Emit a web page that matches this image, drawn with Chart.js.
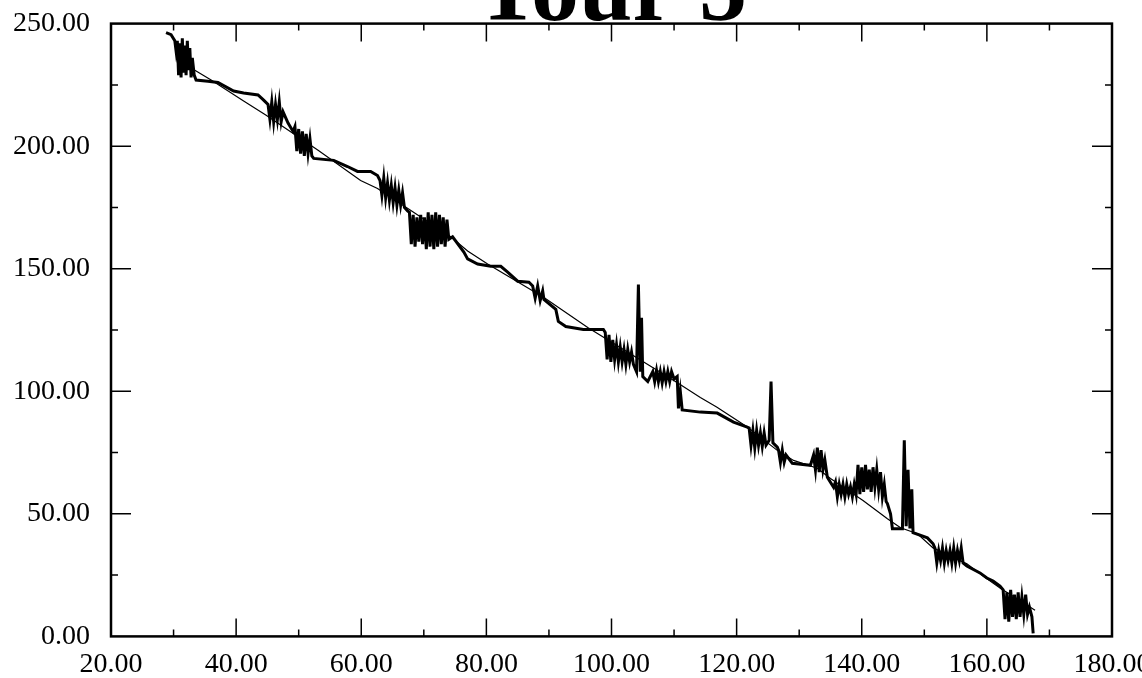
<!DOCTYPE html>
<html>
<head>
<meta charset="utf-8">
<title>Tour 5</title>
<script src="https://cdn.jsdelivr.net/npm/chart.js@4.4.0/dist/chart.umd.min.js"></script>
<style>
html, body { margin: 0; padding: 0; background: #fff; overflow: hidden; width: 1142px; height: 678px; }
#wrap { position: absolute; left: -20px; top: -65px; width: 1182px; height: 757px; }
</style>
</head>
<body>
<div id="wrap"><canvas id="chart"></canvas></div>
<script>
const tourX = [
    28.8, 29.6, 30.2, 30.4, 30.6, 30.8, 31.0, 31.2, 31.4, 31.6, 31.8, 32.0, 32.2, 32.4, 32.6, 32.8, 33.0, 33.3,
    33.6, 35.5, 37.1, 39.6, 41.2, 43.5, 44.4,
    45.1, 45.4, 45.7, 46.0, 46.3, 46.6, 46.9, 47.2, 47.5, 48.3,
    49.1, 49.4, 49.7, 50.0, 50.3, 50.6, 50.9, 51.2, 51.5, 51.8, 52.1,
    52.4, 55.6, 57.8, 59.4, 61.5, 62.6,
    63.0, 63.3, 63.6, 63.9, 64.2, 64.5, 64.8, 65.1, 65.4, 65.7, 66.0, 66.3, 66.6, 66.9, 67.4,
    67.7, 68.0, 68.3, 68.6, 68.9, 69.2, 69.5, 69.8, 70.1, 70.4, 70.7, 71.0, 71.3, 71.6, 71.9, 72.2, 72.5, 72.8, 73.1, 73.4, 73.7, 74.0,
    74.6, 76.4, 77.0, 78.6, 80.7, 82.3, 83.4, 85.0, 86.8,
    87.4, 87.8, 88.2, 88.6, 89.0, 89.2, 91.1, 91.5, 92.7, 95.5, 98.7,
    99.0, 99.3, 99.6, 99.9, 100.2, 100.5, 100.8, 101.1, 101.4, 101.7, 102.0, 102.3, 102.6, 102.9, 103.2, 103.5,
    104.0, 104.3, 104.6, 104.8, 105.0, 105.8,
    106.6, 106.9, 107.2, 107.5, 107.8, 108.1, 108.4, 108.7, 109.0, 109.3, 109.6, 110.0,
    110.5, 110.7, 111.0, 111.3, 114.2, 116.9, 119.5, 121.7,
    122.0, 122.3, 122.6, 122.9, 123.2, 123.5, 123.8, 124.1, 124.4, 124.7, 125.2, 125.5, 125.8, 126.5,
    126.7, 127.0, 127.3, 127.6, 127.9, 128.9, 131.8,
    132.3, 132.6, 132.9, 133.2, 133.5, 133.8, 134.1, 134.5, 135.5,
    135.8, 136.1, 136.4, 136.7, 137.0, 137.3, 137.6, 137.9, 138.2, 138.5, 138.8, 139.1,
    139.4, 139.7, 140.0, 140.3, 140.6, 140.9, 141.2, 141.5, 141.8, 142.1, 142.4, 142.7, 143.0, 143.3, 143.6, 143.9,
    144.1, 144.6, 144.9, 146.5, 146.8, 147.1, 147.4, 147.7, 148.0, 148.2, 150.5, 151.4,
    151.7, 152.0, 152.3, 152.6, 152.9, 153.2, 153.5, 153.8, 154.1, 154.4, 154.7, 155.0, 155.3, 155.6, 155.9, 156.2,
    156.8, 158.9, 160.0, 161.0, 162.1,
    162.6, 162.9, 163.2, 163.5, 163.8, 164.1, 164.4, 164.7, 165.0, 165.3, 165.6, 165.9, 166.2, 166.5,
    166.8, 167.2, 167.4
]
const tourY = [
    246.3, 245.5, 243, 238.9, 243, 229, 242, 228, 244, 230, 241, 229, 243, 231, 240, 228, 236, 229,
    227, 226.5, 226, 222.5, 221.7, 220.9, 218.8,
    217, 211, 218, 210, 217, 211, 218, 210, 214, 209.4,
    206, 208, 198, 207, 197, 206, 196, 205, 197, 203, 196,
    195, 194.2, 191.7, 189.7, 189.7, 188,
    186, 180, 187, 179, 185, 178, 184, 177, 183, 176, 182, 176, 181, 175, 173.6,
    173, 160, 172, 159, 171, 161, 172, 160, 171, 158, 173, 159, 172, 158, 173, 159, 172, 160, 171, 159, 170, 162,
    163, 156.8, 154, 151.9, 151, 151, 148.6, 144.9, 144.5,
    143, 138, 143, 137, 141, 137.5, 133.4, 128.5, 126.4, 125.2, 125.2,
    124, 113, 123, 112, 121, 113, 119, 112, 118, 112, 117, 111, 117, 112, 116, 111,
    108, 143.5, 108, 130, 106, 104,
    108, 104, 108.5, 104, 108, 103.5, 108, 104, 108, 104, 108, 105,
    106, 93, 100, 92.4, 91.5, 91.1, 87.4, 85.4,
    85, 78, 84, 77, 84, 78, 83, 77.5, 83, 78, 80, 104, 79, 77.2,
    76, 71, 76, 71, 74, 70.6, 69.8,
    74, 68, 77, 67, 76, 68, 72, 64.9, 60.8,
    63, 57, 62, 58, 62, 57, 62, 58, 61, 57, 62, 58,
    70, 58, 69, 59, 70, 60, 68, 59, 69, 61, 68, 60, 67, 57, 62, 55,
    54.2, 50, 43.9, 43.9, 80, 45, 68, 44, 60, 42.3, 40.2, 37.8,
    36, 30, 35, 31, 36, 30, 35, 31, 35, 30, 36, 30, 35, 31, 36, 30,
    28.7, 25.9, 23.8, 22.6, 20.5,
    19, 7, 18, 6, 19, 8, 17, 7, 18, 8, 16, 9, 17, 9,
    12, 8, 1.2
]
// reference track (thin line)
const refX = [32.0, 33.6, 36.0, 41.2, 44.8, 53.1, 59.9, 62.6, 74.3, 77.0, 80.2, 89.2, 96.2, 110.6, 114.2, 116.8,
    121.7, 126.5, 129.1, 132.9, 135.0, 140.2, 144.1, 146.2, 148.9, 151.4, 156.8, 159.4, 162.1, 167.7]
const refY = [233, 230.7, 227, 218.4, 212.6, 198.3, 186, 182.7, 163, 157.2, 151.9, 138.3, 126, 103.4, 97.5, 93.6,
    85.4, 75.9, 71.8, 68.6, 64.4, 55.4, 48, 44.3, 41.9, 36.1, 29.6, 24.6, 19.7, 10.7]

const xTicks = [20, 40, 60, 80, 100, 120, 140, 160, 180]
const yTicks = [0, 50, 100, 150, 200, 250]

const serif = 'Liberation Serif'

// frame + inward tick marks on all four sides
const frameTicks = {
    id: 'frameTicks',
    afterDatasetsDraw(chart) {
        const {ctx, chartArea: a, scales: {x, y}} = chart
        ctx.save()
        ctx.strokeStyle = '#000'
        ctx.lineWidth = 1.5
        ctx.beginPath()
        for (let i = 0; i < xTicks.length; i++) {
            const major = x.getPixelForValue(xTicks[i])
            if (i > 0 && i < xTicks.length - 1) {
                ctx.moveTo(major, a.bottom); ctx.lineTo(major, a.bottom - 18)
                ctx.moveTo(major, a.top); ctx.lineTo(major, a.top + 18)
            }
            if (i < xTicks.length - 1) {
                const minor = x.getPixelForValue((xTicks[i] + xTicks[i + 1]) / 2)
                ctx.moveTo(minor, a.bottom); ctx.lineTo(minor, a.bottom - 7)
                ctx.moveTo(minor, a.top); ctx.lineTo(minor, a.top + 7)
            }
        }
        for (let i = 0; i < yTicks.length; i++) {
            const major = y.getPixelForValue(yTicks[i])
            if (i > 0 && i < yTicks.length - 1) {
                ctx.moveTo(a.left, major); ctx.lineTo(a.left + 20, major)
                ctx.moveTo(a.right, major); ctx.lineTo(a.right - 20, major)
            }
            if (i < yTicks.length - 1) {
                const minor = y.getPixelForValue((yTicks[i] + yTicks[i + 1]) / 2)
                ctx.moveTo(a.left, minor); ctx.lineTo(a.left + 7, minor)
                ctx.moveTo(a.right, minor); ctx.lineTo(a.right - 7, minor)
            }
        }
        ctx.stroke()
        ctx.lineWidth = 2.5
        ctx.strokeRect(a.left, a.top, a.right - a.left, a.bottom - a.top)
        ctx.restore()
    }
}

const ctx = document.getElementById('chart').getContext('2d')
const chart = new Chart(ctx, {
    type: 'scatter',
    data: {
        datasets: [{
            label: 'reference',
            data: refX.map((v, i) => ({x: v, y: refY[i]})),
            showLine: true,
            borderColor: '#000',
            borderWidth: 1.2,
            pointRadius: 0,
            tension: 0
        }, {
            label: 'Tour 5',
            data: tourX.map((v, i) => ({x: v, y: tourY[i]})),
            showLine: true,
            borderColor: '#000',
            borderWidth: 3,
            pointRadius: 0,
            tension: 0
        }]
    },
    options: {
        responsive: true,
        maintainAspectRatio: false,
        animation: false,
        layout: {padding: {left: 12, right: 50, top: 0, bottom: 0}},
        plugins: {
            legend: {display: false},
            tooltip: {enabled: false},
            title: {
                display: true,
                text: 'Tour 5',
                color: '#000',
                fullSize: false,
                font: {family: serif, size: 96, weight: 'bold', lineHeight: 0.6},
                padding: {top: 31, bottom: 0}
            }
        },
        scales: {
            x: {
                type: 'linear',
                min: 20, max: 180,
                afterBuildTicks: s => { s.ticks = xTicks.map(v => ({value: v})) },
                ticks: {
                    color: '#000',
                    font: {family: serif, size: 28},
                    padding: 11,
                    maxRotation: 0,
                    autoSkip: false,
                    callback: v => v.toFixed(2)
                },
                grid: {display: false, drawTicks: false},
                border: {display: false}
            },
            y: {
                min: 0, max: 250,
                afterBuildTicks: s => { s.ticks = yTicks.map(v => ({value: v})) },
                ticks: {
                    color: '#000',
                    font: {family: serif, size: 28},
                    padding: 21,
                    callback: v => v.toFixed(2)
                },
                grid: {display: false, drawTicks: false},
                border: {display: false}
            }
        }
    },
    plugins: [frameTicks]
})
</script>
</body>
</html>
